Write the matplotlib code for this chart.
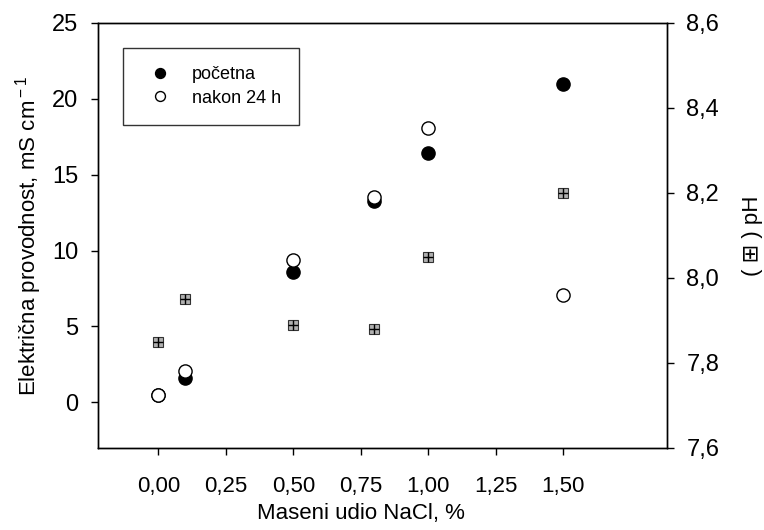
import matplotlib
matplotlib.use("Agg")
import matplotlib.pyplot as plt
from matplotlib.ticker import FuncFormatter

plt.rcParams['font.family'] = ['Liberation Sans', 'DejaVu Sans']
plt.rcParams['mathtext.fontset'] = 'custom'
plt.rcParams['mathtext.rm'] = 'Liberation Sans'

# maseni udio NaCl, %
nacl = [0.0, 0.1, 0.5, 0.8, 1.0, 1.5]
# elektricna provodnost, mS/cm
ec_pocetna = [0.45, 1.6, 8.6, 13.25, 16.4, 21.0]
ec_24h = [0.46, 2.05, 9.4, 13.55, 18.1, 7.05]
# pH
ph = [7.85, 7.95, 7.89, 7.88, 8.05, 8.2]

xticks = [0.0, 0.25, 0.5, 0.75, 1.0, 1.25, 1.5]
yticks_left = [0, 5, 10, 15, 20, 25]
yticks_right = [7.6, 7.8, 8.0, 8.2, 8.4, 8.6]

comma = lambda fmt: FuncFormatter(lambda v, p: (fmt % v).replace('.', ','))

fig = plt.figure(figsize=(7.64, 5.30), dpi=100)
ax = fig.add_axes([0.128, 0.155, 0.745, 0.802])
ax2 = ax.twinx()

ax.plot(nacl, ec_pocetna, 'o', ms=9.5, mfc='black', mec='black', mew=1.0,
        label='početna', zorder=3)
ax.plot(nacl, ec_24h, 'o', ms=9.5, mfc='white', mec='black', mew=1.0,
        label='nakon 24 h', zorder=4)

ax2.plot(nacl, ph, 's', ms=7, mfc='#b0b0b0', mec='#333333', mew=0.8, zorder=3)
ax2.plot(nacl, ph, '+', ms=7, mec='black', mew=1.0, zorder=4)

xmin, xmax = -0.225, 1.885
ax.set_xlim(xmin, xmax)
ax.set_ylim(-3, 25)
ax2.set_ylim(7.6, 8.6)

ax.set_xticks(xticks)
ax.set_yticks(yticks_left)
ax2.set_yticks(yticks_right)
ax.xaxis.set_major_formatter(comma('%.2f'))
ax2.yaxis.set_major_formatter(comma('%.1f'))

for a in (ax, ax2):
    a.tick_params(direction='out', length=5, width=1, labelsize=17, pad=9)
    for s in a.spines.values():
        s.set_linewidth(1.0)
ax.tick_params(axis='x', labelsize=16, pad=15)

ax.set_xlabel('Maseni udio NaCl, %', fontsize=16)
# label is centred under the ticks, not the whole axis
ax.xaxis.set_label_coords((0.75 - xmin) / (xmax - xmin), -0.13)
ax.set_ylabel('Električna provodnost, mS cm$^{\\rm -1}$', fontsize=16, labelpad=6)
ax2.set_ylabel('( ⊞ ) pH', fontsize=16, rotation=90, labelpad=16)

leg = ax.legend(loc='upper left', bbox_to_anchor=(0.045, 0.94), fontsize=13,
                frameon=True, fancybox=False, edgecolor='black',
                borderpad=1.0, handletextpad=0.8, labelspacing=0.35,
                markerscale=0.75, borderaxespad=0)
leg.get_frame().set_linewidth(1.0)

fig.savefig('out.png', dpi=100)
